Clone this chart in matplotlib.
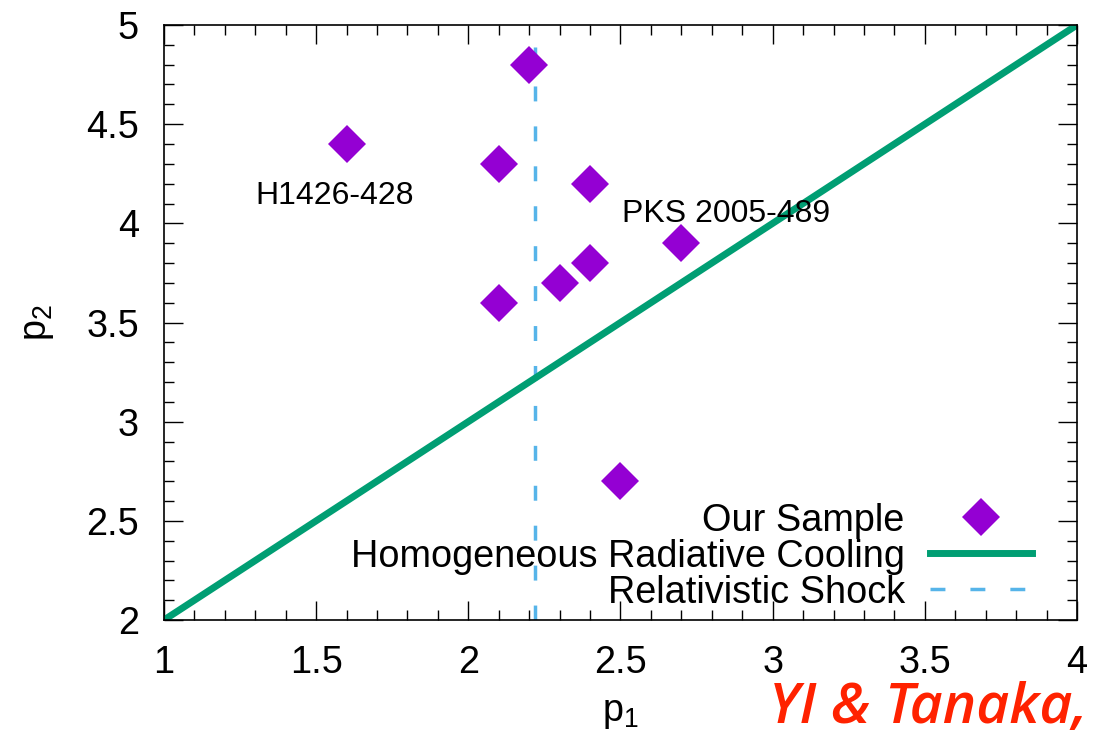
import numpy as np
import matplotlib
matplotlib.use("Agg")
import matplotlib.pyplot as plt
from matplotlib.ticker import MultipleLocator

plt.rcParams['font.family'] = ['Liberation Sans', 'DejaVu Sans']
plt.rcParams['mathtext.fontset'] = 'custom'
plt.rcParams['mathtext.rm'] = 'Liberation Sans'
plt.rcParams['mathtext.it'] = 'Liberation Sans'

# sample points (p1, p2)
p1 = [1.6, 2.1, 2.2, 2.4, 2.7, 2.4, 2.3, 2.1, 2.5]
p2 = [4.4, 4.3, 4.8, 4.2, 3.9, 3.8, 3.7, 3.6, 2.7]

# homogeneous radiative cooling: p2 = p1 + 1
cool_x = [1, 4]
cool_y = [2, 5]

# relativistic shock index
shock_p1 = 2.22
shock_y = [2.0, 4.89]

labels = ["H1426-428", "PKS 2005-489"]
label_pos = [(1.30, 4.10), (2.505, 4.005)]

FS = 27.3

fig = plt.figure(figsize=(10.93, 7.37), dpi=100)
ax = fig.add_axes([0.150, 0.1587, 0.8354, 0.8074])

ax.plot(p1, p2, linestyle='none', marker='D', markersize=19.5,
        color='#9400d3', markeredgewidth=0, label='Our Sample', zorder=3)
ax.plot(cool_x, cool_y, color='#009e73', linewidth=5,
        label='Homogeneous Radiative Cooling', zorder=2)
ax.plot([shock_p1, shock_p1], shock_y, color='#56b4e9', linewidth=2.5,
        dashes=(4.3, 7.2), label='Relativistic Shock', zorder=1)

for txt, (lx, ly) in zip(labels, label_pos):
    ax.text(lx, ly, txt, fontsize=23, ha='left', va='baseline')

ax.set_xlim(1, 4)
ax.set_ylim(2, 5)
ax.xaxis.set_minor_locator(MultipleLocator(0.1))
ax.yaxis.set_minor_locator(MultipleLocator(0.1))
ax.set_xticks([1, 1.5, 2, 2.5, 3, 3.5, 4])
ax.set_xticklabels(['1', '1.5', '2', '2.5', '3', '3.5', '4'])
ax.set_yticks([2, 2.5, 3, 3.5, 4, 4.5, 5])
ax.set_yticklabels(['2', '2.5', '3', '3.5', '4', '4.5', '5'])
ax.tick_params(which='both', direction='in', top=True, right=True,
               labelsize=FS, width=1)
ax.tick_params(which='major', length=14, pad=18)
ax.tick_params(which='minor', length=7)
for s in ax.spines.values():
    s.set_linewidth(1.2)

ax.set_xlabel(r'$\mathregular{p_1}$', fontsize=FS, labelpad=10)
ax.set_ylabel(r'$\mathregular{p_2}$', fontsize=FS, labelpad=22)

leg = ax.legend(loc='lower right', frameon=False, markerfirst=False,
                fontsize=FS, handlelength=2.7, handletextpad=0.66,
                labelspacing=0.0, borderaxespad=0, borderpad=0,
                bbox_to_anchor=(0.9507, 0.016))
for t in leg.get_texts():
    t.set_ha('right')

fig.text(0.704, 0.019, 'YI & Tanaka,', fontsize=41, color='#ff2200',
         family=['Open Sans', 'DejaVu Sans'], fontweight='semibold',
         style='italic', ha='left', va='baseline')

fig.savefig('out.png', dpi=100)
